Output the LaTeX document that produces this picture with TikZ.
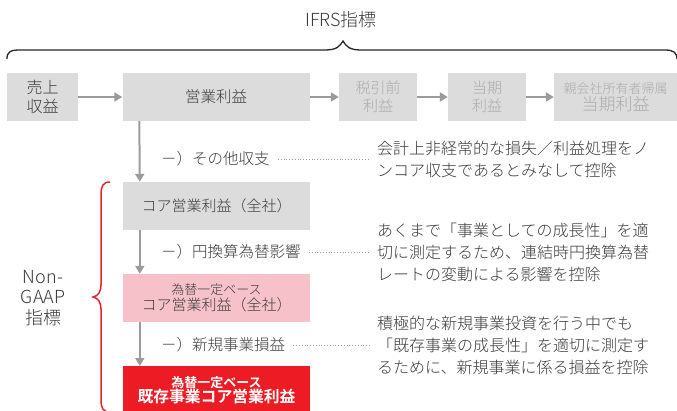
\documentclass[tikz,border=0pt]{standalone}
\usepackage{fontspec}
\setmainfont{Noto Sans CJK JP}[UprightFont=* Light, BoldFont=* Bold]
\usetikzlibrary{arrows.meta}
\definecolor{boxgray}{HTML}{DCDCDD}
\definecolor{txt}{HTML}{3A3A3A}
\definecolor{ltxt}{HTML}{ABABAB}
\definecolor{arrgray}{HTML}{9B9B9B}
\definecolor{pinkbox}{HTML}{F7C1C9}
\definecolor{redbox}{HTML}{ED1C24}
\definecolor{bracered}{HTML}{E4232B}
\begin{document}
\begin{tikzpicture}[x=1pt,y=-1pt,
 box/.style={fill=boxgray, minimum height=48pt, inner sep=0pt, align=center, text=txt},
 arr/.style={draw=arrgray, line width=2pt, -{Triangle[width=9pt,length=8pt]}},
 lab/.style={anchor=west, inner sep=0pt, text=txt, font=\fontsize{15.5}{20}\selectfont},
 note/.style={anchor=west, inner sep=0pt, text=txt, align=left, font=\fontsize{16}{22}\selectfont},
 dots/.style={draw=arrgray, line width=1pt, dash pattern=on 0.9pt off 1.9pt},
]
\clip (0,0) rectangle (677,410);
% title and brace
\node[text=txt, inner sep=0pt, font=\fontsize{18}{20}\selectfont] (title) at (341,20) {IFRS指標};
\draw[line width=1.3pt, black!85] (7,59) .. controls (7,52) and (10,50) .. (20,50) -- (325,50)
  .. controls (337,50) and (340,46) .. (343,41) .. controls (346,46) and (349,50) .. (361,50)
  -- (665,50) .. controls (674,50) and (677,53) .. (677,59);
% top row
\node[box, minimum width=71pt, font=\fontsize{16}{19}\selectfont] (uri) at (42.5,97) {売上\\収益};
\node[box, minimum width=187pt, font=\fontsize{15.5}{19}\selectfont] (eigyo) at (216,97) {営業利益};
\node[box, minimum width=78pt, text=ltxt, font=\fontsize{15}{18}\selectfont] (zei) at (378,97) {税引前\\利益};
\node[box, minimum width=78pt, text=ltxt, font=\fontsize{15}{18}\selectfont] (touki) at (487,97) {当期\\利益};
\node[box, minimum width=123pt, text=ltxt] (oya) at (615.5,97) {{\fontsize{13}{15}\selectfont 親会社所有者帰属}\\[1pt]{\fontsize{17}{19}\selectfont 当期利益}};
\draw[arr] (uri) -- (eigyo);
\draw[arr] (eigyo) -- (zei);
\draw[arr] (zei) -- (touki);
\draw[arr] (touki) -- (oya);
% column boxes
\node[box, minimum width=187pt, font=\fontsize{15}{19}\selectfont] (core) at (216.5,206) {コア営業利益（全社）};
\node[box, minimum width=187pt, fill=pinkbox] (pink) at (216.5,298) {{\fontsize{13}{15}\selectfont 為替一定ベース}\\[1pt]{\fontsize{15}{18}\selectfont コア営業利益（全社）}};
\node[box, minimum width=187pt, fill=redbox, text=white, anchor=north] (red) at (216.5,366) {{\fontsize{13}{15}\selectfont\bfseries 為替一定ベース}\\[0pt]{\fontsize{15.8}{18}\selectfont\bfseries 既存事業コア営業利益}};
\draw[arr] ([xshift=17pt]eigyo.south west) -- ([xshift=17pt]core.north west);
\draw[arr] ([xshift=17pt]core.south west) -- ([xshift=17pt]pink.north west);
\draw[arr] ([xshift=17pt]pink.south west) -- ([xshift=17pt]red.north west);
% labels and notes
\node[lab] (l1) at (161,159) {－）その他収支};
\node[lab] (l2) at (161,252) {－）円換算為替影響};
\node[lab] (l3) at (161,345) {－）新規事業損益};
\node[note] (n1) at (377,159) {会計上非経常的な損失／利益処理をノ\\ンコア収支であるとみなして控除};
\node[note] (n2) at (377,252) {あくまで「事業としての成長性」を適\\切に測定するため、連結時円換算為替\\レートの変動による影響を控除};
\node[note] (n3) at (377,345) {積極的な新規事業投資を行う中でも\\「既存事業の成長性」を適切に測定す\\るために、新規事業に係る損益を控除};
\draw[dots] ([xshift=8pt]l1.east) -- ([xshift=-7pt]n1.west);
\draw[dots] ([xshift=8pt]l2.east) -- ([xshift=-7pt]n2.west);
\draw[dots] ([xshift=8pt]l3.east) -- ([xshift=-7pt]n3.west);
% Non-GAAP brace
\draw[bracered, line width=1.5pt] (110,182) .. controls (103,182) and (101,186) .. (101,195) -- (101,285)
  .. controls (101,292) and (98,296) .. (93,297) .. controls (98,298) and (101,302) .. (101,309)
  -- (101,400) .. controls (101,408) and (103,412) .. (110,412);
\node[text=txt, inner sep=0pt, align=center, font=\fontsize{18}{20.5}\selectfont] (ng) at (43,298) {Non-\\GAAP\\指標};
\end{tikzpicture}
\end{document}
